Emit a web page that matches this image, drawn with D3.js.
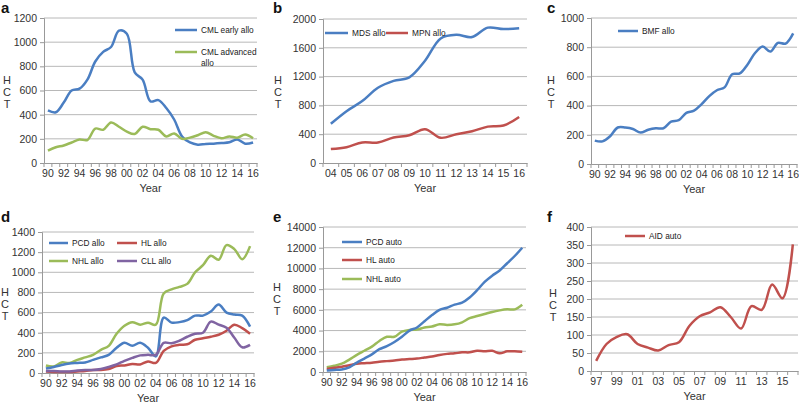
<!DOCTYPE html>
<html>
<head>
<meta charset="utf-8">
<script src="https://cdn.jsdelivr.net/npm/d3@7"></script>
<style>
  body { margin: 0; background: #fff; }
  svg { display: block; font-family: "Liberation Sans", Arial, sans-serif; }
</style>
</head>
<body>
<div id="chart"></div>
<script>
// categories (years as printed on the axes)
var years90 = ["90","91","92","93","94","95","96","97","98","99","00","01","02","03","04","05","06","07","08","09","10","11","12","13","14","15","16"];
var years04 = ["04","05","06","07","08","09","10","11","12","13","14","15","16"];
var years97 = ["97","98","99","00","01","02","03","04","05","06","07","08","09","10","11","12","13","14","15","16"];

// panel a
var cmlEarly = [435,420,500,600,615,690,840,920,960,1095,1070,750,690,510,520,455,360,220,170,152,158,160,165,172,195,160,170];
var cmlAdvanced = [102,130,145,170,195,190,285,275,335,300,260,240,300,280,275,220,245,200,210,230,255,225,205,220,210,235,205];
// panel b
var mdsAllo = [545,720,860,1045,1140,1190,1420,1730,1780,1750,1880,1860,1870];
var mpnAllo = [195,220,285,285,355,385,470,350,400,440,505,520,640];
// panel c
var bmfAllo = [160,155,190,250,250,240,215,235,245,245,290,300,350,365,410,465,505,525,615,620,680,760,805,770,830,825,895];
// panel d
var pcdAllo = [45,60,80,95,100,105,130,155,180,250,300,270,300,250,165,550,500,505,525,570,570,610,680,600,580,570,460];
var hlAllo = [15,10,10,10,15,20,30,30,40,70,75,90,85,115,100,220,265,280,285,330,345,360,380,420,480,445,390];
var nhlAllo = [75,65,105,100,130,155,180,230,270,390,470,505,480,500,480,790,830,855,885,1000,1070,1165,1125,1270,1230,1130,1260];
var cllAllo = [20,20,15,15,25,30,30,40,60,85,120,150,175,180,180,300,295,320,360,390,400,510,480,450,350,255,280];
// panel e
var pcdAuto = [150,200,250,450,900,1300,1700,2200,2500,2900,3400,4000,4300,4900,5500,6000,6200,6500,6700,7200,7900,8700,9300,9800,10500,11200,12000];
var hlAuto = [300,400,500,650,800,850,900,1000,1050,1100,1200,1250,1300,1400,1500,1650,1750,1800,1900,1900,2050,2000,2050,1800,2000,2000,1950];
var nhlAuto = [450,600,800,1200,1650,2050,2450,3000,3400,3400,3900,4050,4100,4300,4400,4600,4550,4600,4800,5200,5400,5600,5800,5950,6050,6050,6500];
// panel f
var aidAuto = [28,75,95,102,75,65,57,72,80,125,152,163,177,150,118,180,170,240,202,352];

// y tick values per panel
var ticksA = [0,200,400,600,800,1000,1200];
var ticksB = [0,400,800,1200,1600,2000];
var ticksC = [0,200,400,600,800,1000];
var ticksD = [0,200,400,600,800,1000,1200,1400];
var ticksE = [0,2000,4000,6000,8000,10000,12000,14000];
var ticksF = [0,50,100,150,200,250,300,350,400];

var BLUE = "#4a7ec2", RED = "#c0504d", GREEN = "#9bbb59", PURPLE = "#8064a2";

var svg = d3.select("#chart").append("svg")
    .attr("width", 799)
    .attr("height", 403);

var panels = [
  {letter: "a", lx: 1, ly: 13, box: [44, 257, 18, 163], hct: [7, 80], cats: years90, labelEvery: 2, ticks: ticksA,
   series: [
     {values: cmlEarly, color: BLUE, name: ["CML early allo"], lg: [175, 197, 30]},
     {values: cmlAdvanced, color: GREEN, name: ["CML advanced", "allo"], lg: [175, 197, 52]}
   ]},
  {letter: "b", lx: 273, ly: 13, box: [323, 527, 19, 163], hct: [278, 80], cats: years04, labelEvery: 1, ticks: ticksB,
   series: [
     {values: mdsAllo, color: BLUE, name: ["MDS allo"], lg: [325, 348, 33]},
     {values: mpnAllo, color: RED, name: ["MPN allo"], lg: [386, 408, 33]}
   ]},
  {letter: "c", lx: 547, ly: 13, box: [591, 797, 18, 164], hct: [551, 80], cats: years90, labelEvery: 2, ticks: ticksC,
   series: [
     {values: bmfAllo, color: BLUE, name: ["BMF allo"], lg: [618, 638, 31]}
   ]},
  {letter: "d", lx: 1, ly: 222, box: [42, 254, 232, 373], hct: [5, 292], cats: years90, labelEvery: 2, ticks: ticksD,
   series: [
     {values: nhlAllo, color: GREEN, name: ["NHL allo"], lg: [49, 68, 261]},
     {values: pcdAllo, color: BLUE, name: ["PCD allo"], lg: [49, 68, 243]},
     {values: hlAllo, color: RED, name: ["HL allo"], lg: [117, 137, 243]},
     {values: cllAllo, color: PURPLE, name: ["CLL allo"], lg: [117, 137, 261]}
   ]},
  {letter: "e", lx: 273, ly: 222, box: [323, 526, 227, 372], hct: [277, 287], cats: years90, labelEvery: 2, ticks: ticksE,
   series: [
     {values: nhlAuto, color: GREEN, name: ["NHL auto"], lg: [342, 362, 279]},
     {values: hlAuto, color: RED, name: ["HL auto"], lg: [342, 362, 260]},
     {values: pcdAuto, color: BLUE, name: ["PCD auto"], lg: [342, 362, 242]}
   ]},
  {letter: "f", lx: 547, ly: 222, box: [591, 798, 227, 371], hct: [553, 293], cats: years97, labelEvery: 2, ticks: ticksF,
   series: [
     {values: aidAuto, color: RED, name: ["AID auto"], lg: [625, 645, 236]}
   ]}
];

panels.forEach(function(p) {
  var left = p.box[0], right = p.box[1], top = p.box[2], bottom = p.box[3];
  var g = svg.append("g");

  var x = d3.scaleBand().domain(p.cats).range([left, right]).padding(0);
  var y = d3.scaleLinear().domain([0, d3.max(p.ticks)]).range([bottom, top]);

  // gridlines
  g.selectAll(".grid").data(p.ticks.slice(1)).enter().append("line")
    .attr("x1", left).attr("x2", right)
    .attr("y1", function(d) { return y(d); }).attr("y2", function(d) { return y(d); })
    .attr("stroke", "#b8b8b8").attr("stroke-width", 1);

  // y axis
  var yAxis = g.append("g")
    .attr("transform", "translate(" + left + ",0)")
    .call(d3.axisLeft(y).tickValues(p.ticks).tickSize(4).tickPadding(3).tickFormat(d3.format("d")));
  yAxis.select(".domain").attr("stroke", "#999");
  yAxis.selectAll(".tick line").attr("stroke", "#999");
  yAxis.selectAll("text").attr("font-size", 10.5).attr("fill", "#333").attr("font-family", null);

  // x axis: ticks at category boundaries, labels at centres
  var xAxis = g.append("g")
    .attr("transform", "translate(0," + bottom + ")")
    .call(d3.axisBottom(x).tickSize(0).tickPadding(7)
      .tickFormat(function(d, i) { return i % p.labelEvery === 0 ? d : ""; }));
  xAxis.select(".domain").attr("stroke", "#999");
  xAxis.selectAll("text").attr("font-size", 10.5).attr("fill", "#333").attr("font-family", null);
  var bounds = p.cats.map(function(c) { return x(c); }).concat([right]);
  g.selectAll(".xtick").data(bounds).enter().append("line")
    .attr("x1", function(d) { return d; }).attr("x2", function(d) { return d; })
    .attr("y1", bottom).attr("y2", bottom + 4)
    .attr("stroke", "#999");

  // axis titles
  g.append("text")
    .attr("x", (left + right) / 2).attr("y", bottom + 29)
    .attr("text-anchor", "middle").attr("font-size", 11).attr("fill", "#333")
    .text("Year");
  g.selectAll(".hct").data(["H", "C", "T"]).enter().append("text")
    .attr("x", p.hct[0]).attr("y", function(d, i) { return p.hct[1] + 4 + i * 12; })
    .attr("text-anchor", "middle").attr("font-size", 11).attr("fill", "#333")
    .text(function(d) { return d; });

  // panel letter
  g.append("text")
    .attr("x", p.lx).attr("y", p.ly)
    .attr("font-size", 15).attr("font-weight", "bold").attr("fill", "#111")
    .text(p.letter);

  // series lines
  var line = d3.line()
    .x(function(d, i) { return x(p.cats[i]) + x.bandwidth() / 2; })
    .y(function(d) { return y(d); })
    .curve(d3.curveCatmullRom.alpha(0.5));
  p.series.forEach(function(s) {
    g.append("path").datum(s.values)
      .attr("fill", "none").attr("stroke", s.color)
      .attr("stroke-width", 2.5).attr("stroke-linejoin", "round")
      .attr("d", line);
  });

  // legend
  p.series.forEach(function(s) {
    g.append("line")
      .attr("x1", s.lg[0]).attr("x2", s.lg[1]).attr("y1", s.lg[2]).attr("y2", s.lg[2])
      .attr("stroke", s.color).attr("stroke-width", 2.5);
    s.name.forEach(function(t, i) {
      g.append("text")
        .attr("x", s.lg[1] + 4).attr("y", s.lg[2] + 3 + i * 10.5)
        .attr("font-size", 8.3).attr("fill", "#222")
        .text(t);
    });
  });
});
</script>
</body>
</html>
